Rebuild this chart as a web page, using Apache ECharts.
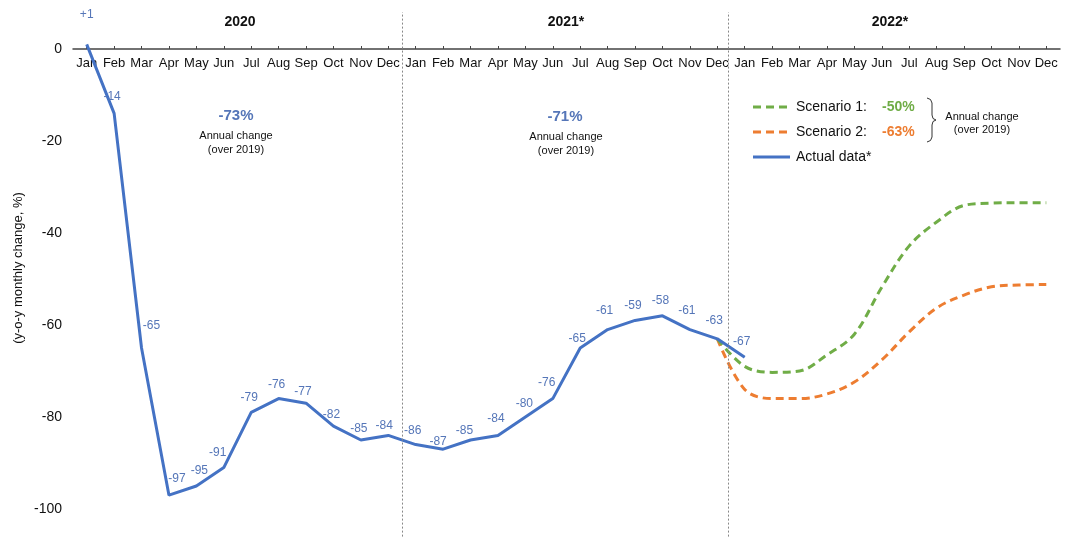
<!DOCTYPE html>
<html>
<head>
<meta charset="utf-8">
<script src="https://cdn.jsdelivr.net/npm/echarts@6/dist/echarts.min.js"></script>
<style>
  html, body { margin: 0; padding: 0; background: #fff; }
  #chart { width: 1069px; height: 544px; }
</style>
</head>
<body>
<div id="chart"></div>
<script>
// ---------- DATA ----------
const months = ['Jan','Feb','Mar','Apr','May','Jun','Jul','Aug','Sep','Oct','Nov','Dec'];
const categories = months.concat(months, months);          // 2020, 2021, 2022
const yearLabels = ['2020', '2021*', '2022*'];

const actual2020 = [1, -14, -65, -97, -95, -91, -79, -76, -77, -82, -85, -84];
const actual2021 = [-86, -87, -85, -84, -80, -76, -65, -61, -59, -58, -61, -63];
const actual2022 = [-67];

const scenario1_2022 = [-69, -70.3, -70, -66.5, -62, -51.8, -42.8, -37.6, -34, -33.5, -33.4, -33.4];
const scenario2_2022 = [-74, -76, -76, -75, -72.4, -67.6, -61.5, -56.3, -53.5, -51.7, -51.3, -51.2];

const annual2020 = '-73%';
const annual2021 = '-71%';
const scenario1Annual = '-50%';
const scenario2Annual = '-63%';

const yTicks = [0, -20, -40, -60, -80, -100];
const yearBoundaries = [11.5, 23.4];   // between Dec and Jan (category index units)

// ---------- BUILD ----------
const FONT = 'Arial, "Liberation Sans", sans-serif';
const BLUE = '#4472C4', LABEL_BLUE = '#5576B8', GREEN = '#70AD47', ORANGE = '#ED7D31';

const actualValues = actual2020.concat(actual2021, actual2022);
const actualSeries = categories.map((c, i) => i < actualValues.length ? actualValues[i] : null);

function scenarioSeries(vals) {
  const anchorIdx = 23; // Dec 2021 actual
  return categories.map((c, i) => {
    if (i < anchorIdx) return null;
    if (i === anchorIdx) return actualValues[anchorIdx];
    return vals[i - 24];
  });
}

// label offsets (pixel nudges) per point, relative to position 'top'
const labelNudge = [
  [0,-18],[-2,-5],[10,-11],[8,-5],[3,-4],[-6,-3],[-2,-3],[-2,-2],[-3,0],[-2,0],[-2,0],[-4,2],
  [-3,-2],[-5,4],[-6,2],[-2,-5],[-1,-2],[-6,-4],[-3,2],[-3,-7],[-2,-3],[-2,-4],[-3,-7],[-3,-7],
  [-3,-4]
];

const actualData = actualSeries.map((v, i) => {
  if (v === null) return null;
  const txt = (i === 0 && v > 0) ? '+' + v : String(v);
  return {
    value: v,
    label: { show: true, position: 'top', distance: 5, offset: labelNudge[i] || [0,0], formatter: txt }
  };
});

const chart = echarts.init(document.getElementById('chart'), null, { renderer: 'canvas' });

const txt = (x, y, text, opts) => ({
  type: 'text', x: x, y: y, silent: true,
  style: Object.assign({ text: text, font: '13px ' + FONT, fill: '#111', align: 'center', verticalAlign: 'middle' }, opts || {})
});

const graphics = [
  txt(240, 22, yearLabels[0], { font: 'bold 14px ' + FONT }),
  txt(566, 22, yearLabels[1], { font: 'bold 14px ' + FONT }),
  txt(890, 22, yearLabels[2], { font: 'bold 14px ' + FONT }),

  txt(236, 116, annual2020, { font: 'bold 15px ' + FONT, fill: LABEL_BLUE }),
  txt(236, 136, 'Annual change', { font: '11px ' + FONT }),
  txt(236, 150, '(over 2019)', { font: '11px ' + FONT }),

  txt(565, 117, annual2021, { font: 'bold 15px ' + FONT, fill: LABEL_BLUE }),
  txt(566, 137, 'Annual change', { font: '11px ' + FONT }),
  txt(566, 151, '(over 2019)', { font: '11px ' + FONT }),

  // legend
  { type: 'line', silent: true, shape: { x1: 753, y1: 107, x2: 789, y2: 107 },
    style: { stroke: GREEN, lineWidth: 3, lineDash: [8, 5] } },
  txt(796, 107, 'Scenario 1:', { font: '14px ' + FONT, align: 'left' }),
  txt(882, 107, scenario1Annual, { font: 'bold 14px ' + FONT, fill: GREEN, align: 'left' }),
  { type: 'line', silent: true, shape: { x1: 753, y1: 132, x2: 789, y2: 132 },
    style: { stroke: ORANGE, lineWidth: 3, lineDash: [8, 5] } },
  txt(796, 132, 'Scenario 2:', { font: '14px ' + FONT, align: 'left' }),
  txt(882, 132, scenario2Annual, { font: 'bold 14px ' + FONT, fill: ORANGE, align: 'left' }),
  { type: 'line', silent: true, shape: { x1: 753, y1: 157, x2: 790, y2: 157 },
    style: { stroke: BLUE, lineWidth: 3 } },
  txt(796, 157, 'Actual data*', { font: '14px ' + FONT, align: 'left' }),
  { type: 'polyline', silent: true,
    shape: { points: [[927,98],[930.5,99.5],[932,103],[932,115],[933,118.5],[936,120],[933,121.5],[932,125],[932,137],[930.5,140.5],[927,142]] },
    style: { stroke: '#333', lineWidth: 1, fill: null } },
  txt(982, 117, 'Annual change', { font: '11px ' + FONT }),
  txt(982, 130, '(over 2019)', { font: '11px ' + FONT }),

  // y axis title
  { type: 'text', x: 18, y: 268, rotation: Math.PI / 2, silent: true,
    style: { text: '(y-o-y monthly change, %)', font: '13px ' + FONT, fill: '#111', align: 'center', verticalAlign: 'middle' } }
];

const option = {
  animation: false,
  backgroundColor: '#fff',
  grid: { left: 73, right: 9, top: 12.2, bottom: 7.4, outerBoundsMode: 'none', containLabel: false },
  xAxis: [
    {
      type: 'category',
      data: categories,
      boundaryGap: true,
      position: 'top',
      offset: -36.8,
      axisLine: { onZero: false, lineStyle: { color: '#444', width: 1.5 } },
      axisTick: { show: true, alignWithLabel: true, inside: false, length: 3, lineStyle: { color: '#444' } },
      axisLabel: { inside: true, interval: 0, margin: 8, fontSize: 13, color: '#111', fontFamily: FONT },
      splitLine: { show: false }
    },
    {
      type: 'value', min: -0.5, max: 35.5, show: false,
      splitLine: { show: false }
    }
  ],
  yAxis: {
    type: 'value',
    min: -106, max: 8,
    axisLine: { show: false },
    axisTick: { show: false },
    splitLine: { show: false },
    axisLabel: {
      fontSize: 14, color: '#111', fontFamily: FONT, margin: 11,
      showMinLabel: false, showMaxLabel: false,
      formatter: function (v) { return yTicks.indexOf(v) >= 0 ? String(v) : ''; }
    }
  },
  series: [
    {
      name: 'separators', type: 'line', xAxisIndex: 1, data: [], silent: true,
      markLine: {
        silent: true, symbol: ['none', 'none'], label: { show: false },
        lineStyle: { color: '#888', width: 1, type: [2, 2] },
        data: yearBoundaries.map(v => ({ xAxis: v }))
      }
    },
    {
      name: 'Scenario 2', type: 'line', data: scenarioSeries(scenario2_2022),
      smooth: 0.35, symbol: 'none', z: 2,
      lineStyle: { color: ORANGE, width: 3, type: [8, 5] }
    },
    {
      name: 'Scenario 1', type: 'line', data: scenarioSeries(scenario1_2022),
      smooth: 0.35, symbol: 'none', z: 3,
      lineStyle: { color: GREEN, width: 3, type: [8, 5] }
    },
    {
      name: 'Actual data*', type: 'line', data: actualData, z: 4,
      symbol: 'circle', symbolSize: 1, showSymbol: true,
      itemStyle: { color: 'rgba(0,0,0,0)', borderWidth: 0 },
      lineStyle: { color: BLUE, width: 3 },
      label: { show: true, color: LABEL_BLUE, fontSize: 12, fontFamily: FONT }
    }
  ],
  graphic: graphics
};

chart.setOption(option);
</script>
</body>
</html>
